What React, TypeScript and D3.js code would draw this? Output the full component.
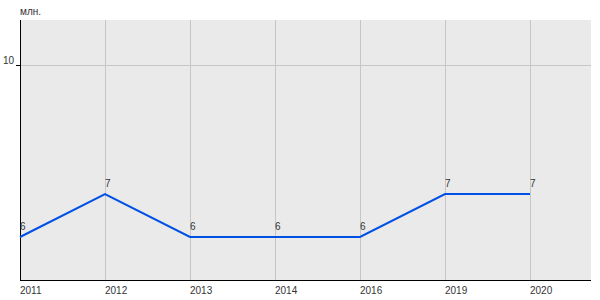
import React from "react";
import * as d3 from "d3";

const categories = ["2011", "2012", "2013", "2014", "2016", "2019", "2020"];
const values = [6, 7, 6, 6, 6, 7, 7];
const yTicks = [10];
const yUnit = "млн.";

export default function App() {
  const W = 600, H = 300;
  const left = 20, right = 591, top = 20, bottom = 280;
  const x = d3.scalePoint<string>().domain(categories).range([20, 530]);
  const y = d3.scaleLinear().domain([5, 10]).range([280, 65]);
  const line = d3.line<number>().x((_, i) => x(categories[i])!).y((d) => y(d));
  const font = "Liberation Sans, Arial, sans-serif";
  return (
    <svg width={W} height={H} style={{ position: "absolute", left: 0, top: 0 }} fontFamily={font}>
      <rect x={left} y={top} width={right - left} height={bottom - top} fill="#eaeaea" />
      {categories.map((c) => (
        <line key={c} x1={x(c)! + 0.5} x2={x(c)! + 0.5} y1={top} y2={bottom} stroke="#c6c6c6" strokeWidth={1} />
      ))}
      {yTicks.map((t) => (
        <g key={t}>
          <line x1={left} x2={right} y1={Math.round(y(t)) + 0.5} y2={Math.round(y(t)) + 0.5} stroke="#c6c6c6" />
          <line x1={left - 4} x2={left} y1={Math.round(y(t)) + 0.5} y2={Math.round(y(t)) + 0.5} stroke="#000" />
          <text x={left - 6} y={y(t) - 1} textAnchor="end" fontSize={10} fill="#333">{t}</text>
        </g>
      ))}
      <line x1={left + 0.5} x2={left + 0.5} y1={top} y2={bottom} stroke="#000" />
      <line x1={left} x2={right} y1={bottom + 0.5} y2={bottom + 0.5} stroke="#000" />
      <text x={left} y={15} fontSize={10} fill="#333">{yUnit}</text>
      {categories.map((c) => (
        <text key={c} x={x(c)!} y={294} fontSize={10} fill="#333">{c}</text>
      ))}
      <path d={line(values)!} fill="none" stroke="#0050e6" strokeWidth={2} />
      {values.map((v, i) => (
        <text key={i} x={x(categories[i])!} y={y(v) - 7} fontSize={10} fill="#333">{v}</text>
      ))}
    </svg>
  );
}
